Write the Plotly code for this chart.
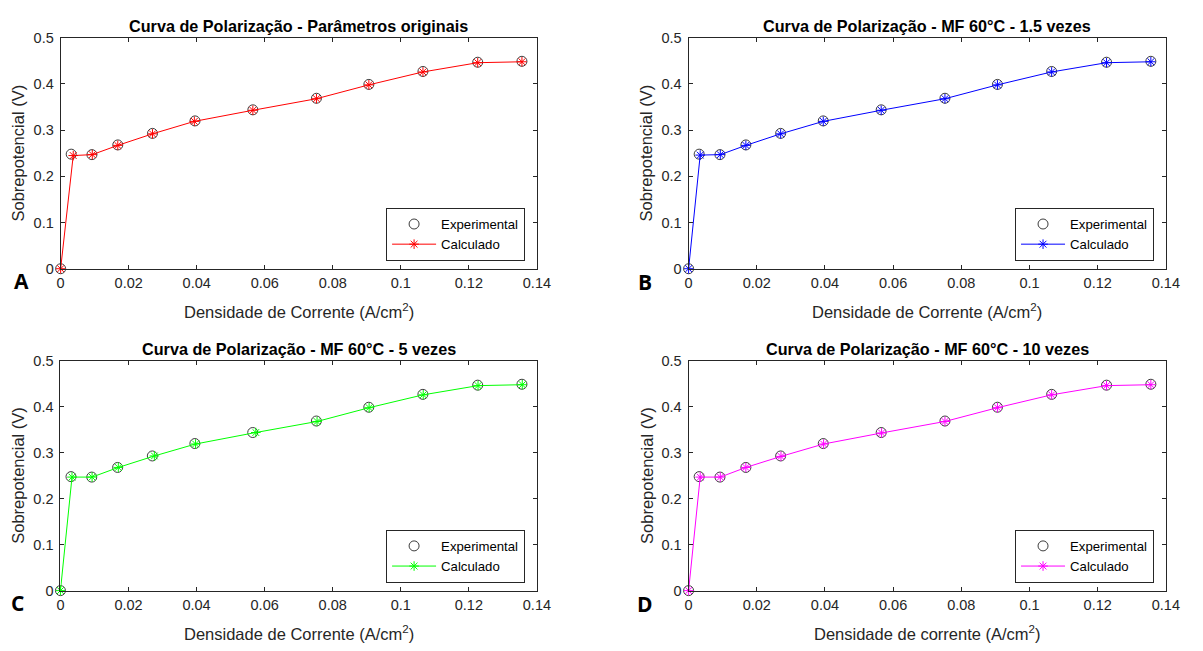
import plotly.graph_objects as go

# Experimental polarization data (current density in A/cm2, overpotential in V)
x_exp = [0, 0.0031, 0.0092, 0.0168, 0.0270, 0.0395, 0.0565, 0.0752, 0.0906, 0.1065, 0.1226, 0.1356]
y_exp = [0, 0.248, 0.247, 0.268, 0.293, 0.320, 0.344, 0.369, 0.399, 0.427, 0.447, 0.449]

# Calculated curves for each parameter set
x_calc_a = [0, 0.0037, 0.0093, 0.0168, 0.0270, 0.0393, 0.0565, 0.0752, 0.0906, 0.1065, 0.1226, 0.1356]
y_calc_a = [0, 0.245, 0.247, 0.267, 0.292, 0.319, 0.343, 0.368, 0.398, 0.426, 0.446, 0.448]

x_calc_b = [0, 0.0034, 0.0093, 0.0168, 0.0270, 0.0395, 0.0565, 0.0752, 0.0906, 0.1065, 0.1226, 0.1356]
y_calc_b = [0, 0.246, 0.247, 0.267, 0.292, 0.319, 0.343, 0.368, 0.398, 0.426, 0.446, 0.448]

x_calc_c = [0, 0.0034, 0.0093, 0.0170, 0.0276, 0.0397, 0.0574, 0.0754, 0.0907, 0.1066, 0.1227, 0.1357]
y_calc_c = [0, 0.247, 0.247, 0.268, 0.293, 0.319, 0.344, 0.368, 0.398, 0.426, 0.446, 0.448]

x_calc_d = [0, 0.0034, 0.0093, 0.0168, 0.0271, 0.0396, 0.0566, 0.0752, 0.0906, 0.1065, 0.1226, 0.1356]
y_calc_d = [0, 0.247, 0.247, 0.268, 0.292, 0.319, 0.343, 0.368, 0.398, 0.426, 0.446, 0.448]

x_ticks = [0, 0.02, 0.04, 0.06, 0.08, 0.1, 0.12, 0.14]
x_tick_labels = ["0", "0.02", "0.04", "0.06", "0.08", "0.1", "0.12", "0.14"]
y_ticks = [0, 0.1, 0.2, 0.3, 0.4, 0.5]
y_tick_labels = ["0", "0.1", "0.2", "0.3", "0.4", "0.5"]

titles = [
    "Curva de Polarização - Parâmetros originais",
    "Curva de Polarização - MF 60°C - 1.5 vezes",
    "Curva de Polarização - MF 60°C - 5 vezes",
    "Curva de Polarização - MF 60°C - 10 vezes",
]
x_labels = [
    "Densidade de Corrente (A/cm<sup>2</sup>)",
    "Densidade de Corrente (A/cm<sup>2</sup>)",
    "Densidade de Corrente (A/cm<sup>2</sup>)",
    "Densidade de corrente (A/cm<sup>2</sup>)",
]
y_label = "Sobrepotencial (V)"
panel_letters = ["A", "B", "C", "D"]
colors = ["#ff0000", "#0000ff", "#00ff00", "#ff00ff"]
calc_x = [x_calc_a, x_calc_b, x_calc_c, x_calc_d]
calc_y = [y_calc_a, y_calc_b, y_calc_c, y_calc_d]

W, H = 1203, 651
# Plot boxes in pixels: (left, right, top, bottom)
boxes = [
    (57.5, 541.0, 30.5, 267.3),
    (695.0, 1179.5, 30.5, 267.3),
    (57.3, 541.0, 361.7, 597.3),
    (695.0, 1179.5, 361.7, 597.3),
]
letter_pos = [(18, 280), (651, 281), (14, 610), (651, 611)]

FONT = "Liberation Sans, Arial, sans-serif"
INK = "#262626"

fig = go.Figure()
annotations = []
layout = dict(
    width=W, height=H,
    margin=dict(l=0, r=0, t=0, b=0),
    paper_bgcolor="white", plot_bgcolor="white",
    font=dict(family=FONT, color=INK, size=14.5),
)

for i in range(4):
    n = "" if i == 0 else str(i + 1)
    xa, ya = "x" + n, "y" + n
    leg = "legend" + n
    l, r, t, b = boxes[i]

    fig.add_trace(go.Scatter(
        x=x_exp, y=y_exp, mode="markers", name="Experimental",
        xaxis=xa, yaxis=ya, legend=leg, cliponaxis=False,
        marker=dict(symbol="circle-open", size=10, color="#3c3c3c",
                    line=dict(color="#3c3c3c", width=1)),
    ))
    fig.add_trace(go.Scatter(
        x=calc_x[i], y=calc_y[i], mode="lines+markers", name="Calculado",
        xaxis=xa, yaxis=ya, legend=leg, cliponaxis=False,
        line=dict(color=colors[i], width=1),
        marker=dict(symbol="asterisk-open", size=8, color=colors[i],
                    line=dict(color=colors[i], width=1)),
    ))

    axis_common = dict(
        showline=True, mirror="ticks", linecolor=INK, linewidth=1,
        ticks="inside", ticklen=4, tickwidth=1, tickcolor=INK,
        showgrid=False, zeroline=False,
        tickfont=dict(family=FONT, size=14.5, color=INK),
    )
    layout["xaxis" + n] = dict(
        axis_common, domain=[l / W, r / W], range=[0, 0.14],
        tickvals=x_ticks, ticktext=x_tick_labels, anchor=ya,
        ticklabelstandoff=1,
    )
    layout["yaxis" + n] = dict(
        axis_common, domain=[1 - b / H, 1 - t / H], range=[0, 0.5],
        tickvals=y_ticks, ticktext=y_tick_labels, anchor=xa,
        ticklabelstandoff=3,
    )
    layout[leg] = dict(
        x=(r - 12) / W, y=1 - (b - 8) / H, xanchor="right", yanchor="bottom",
        bgcolor="white", bordercolor=INK, borderwidth=1,
        font=dict(family=FONT, size=13.2, color="#000000"),
        tracegroupgap=0, itemwidth=44,
    )

    cx = (l + r) / 2
    annotations.append(dict(
        text="<b>" + titles[i] + "</b>", x=cx / W, y=1 - (t - 12.5) / H,
        xref="paper", yref="paper", xanchor="center", yanchor="middle",
        showarrow=False, font=dict(family=FONT, size=16.2, color="#000000"),
    ))
    annotations.append(dict(
        text=x_labels[i], x=cx / W, y=1 - (b + 43) / H,
        xref="paper", yref="paper", xanchor="center", yanchor="middle",
        showarrow=False, font=dict(family=FONT, size=16.5, color=INK),
    ))
    annotations.append(dict(
        text=y_label, x=(l - 43) / W, y=1 - ((t + b) / 2) / H,
        xref="paper", yref="paper", xanchor="center", yanchor="middle",
        textangle=-90, showarrow=False,
        font=dict(family=FONT, size=16.5, color=INK),
    ))
    lx, ly = letter_pos[i]
    annotations.append(dict(
        text="<b>" + panel_letters[i] + "</b>", x=lx / W, y=1 - ly / H,
        xref="paper", yref="paper", xanchor="center", yanchor="middle",
        showarrow=False, font=dict(family="Open Sans, sans-serif", size=21, color="#000000"),
    ))

layout["annotations"] = annotations
layout["showlegend"] = True
fig.update_layout(**layout)

fig.write_html("out.html")
